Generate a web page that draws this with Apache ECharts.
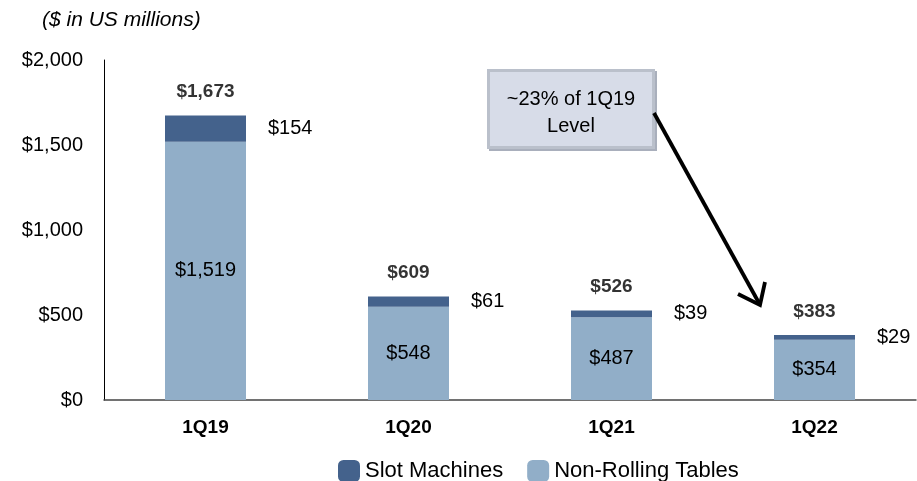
<!DOCTYPE html>
<html>
<head>
<meta charset="utf-8">
<script src="https://cdn.jsdelivr.net/npm/echarts@6/dist/echarts.min.js"></script>
<style>html,body{margin:0;padding:0;background:#fff}#c{width:917px;height:481px}</style>
</head>
<body>
<div id="c"></div>
<script>
var categories = ['1Q19', '1Q20', '1Q21', '1Q22'];
var nonRolling = [1519, 548, 487, 354];
var slots = [154, 61, 39, 29];
var totals = [1673, 609, 526, 383];
var yTicks = [0, 500, 1000, 1500, 2000];

function money(v) { return '$' + v.toLocaleString('en-US'); }

var FONT = '"Liberation Sans", Arial, sans-serif';
var chart = echarts.init(document.getElementById('c'));
chart.setOption({
  animation: false,
  textStyle: { fontFamily: FONT },
  grid: { left: 104, right: 1, top: 60, bottom: 81, containLabel: false },
  legend: {
    data: ['Slot Machines', 'Non-Rolling Tables'],
    top: 455, left: 333,
    icon: 'roundRect', itemWidth: 22, itemHeight: 22, itemGap: 24,
    textStyle: { fontFamily: FONT, fontSize: 22, color: '#000', padding: [0, 0, 0, 0] }
  },
  xAxis: {
    type: 'category', data: categories,
    axisLine: { lineStyle: { color: '#444', width: 1.5 } },
    axisTick: { show: false },
    axisLabel: { fontFamily: FONT, fontSize: 19, fontWeight: 'bold', color: '#000', margin: 18 }
  },
  yAxis: {
    type: 'value', min: yTicks[0], max: yTicks[yTicks.length - 1], interval: 500,
    axisLine: { show: true, lineStyle: { color: '#000', width: 1 } },
    axisTick: { show: false },
    splitLine: { show: false },
    axisLabel: { fontFamily: FONT, fontSize: 20, color: '#000', margin: 21, formatter: function (v) { return money(v); } }
  },
  series: [
    {
      name: 'Non-Rolling Tables', type: 'bar', stack: 'a', barWidth: 81,
      data: nonRolling,
      itemStyle: { color: '#91AEC8' },
      label: { show: true, position: 'inside', fontFamily: FONT, fontSize: 20, color: '#000', formatter: function (p) { return money(p.value); } }
    },
    {
      name: 'Slot Machines', type: 'bar', stack: 'a', barWidth: 81,
      data: slots,
      itemStyle: { color: '#44628C' },
      label: { show: true, position: 'right', distance: 22, fontFamily: FONT, fontSize: 20, color: '#000', formatter: function (p) { return money(p.value); } }
    },
    {
      name: 'Total', type: 'scatter', symbolSize: 0, data: totals, silent: true,
      label: { show: true, position: 'top', distance: 14, fontFamily: FONT, fontSize: 19, fontWeight: 'bold', color: '#000', formatter: function (p) { return money(p.value); } }
    }
  ],
  graphic: [
    { type: 'text', left: 42, top: 10, style: { text: '($ in US millions)', font: 'italic 21px ' + FONT, fill: '#000' } },
    { type: 'rect', shape: { x: 489, y: 71, width: 168, height: 80 }, style: { fill: '#A9AFBC' } },
    { type: 'rect', shape: { x: 487, y: 69, width: 168, height: 80 }, style: { fill: '#BAC0CB' } },
    { type: 'rect', shape: { x: 490, y: 72, width: 162, height: 74 }, style: { fill: '#D7DCE8' } },
    { type: 'text', x: 571, y: 112.5, style: { text: '~23% of 1Q19\nLevel', font: '20px ' + FONT, fill: '#000', textAlign: 'center', textVerticalAlign: 'middle', lineHeight: 27 } },
    { type: 'line', shape: { x1: 654, y1: 113, x2: 759, y2: 303 }, style: { stroke: '#000', lineWidth: 3.8 } },
    { type: 'polyline', shape: { points: [[765, 282], [760, 305], [738, 294]] }, style: { stroke: '#000', lineWidth: 3.8, fill: null, lineJoin: 'miter' } }
  ]
});
</script>
</body>
</html>
